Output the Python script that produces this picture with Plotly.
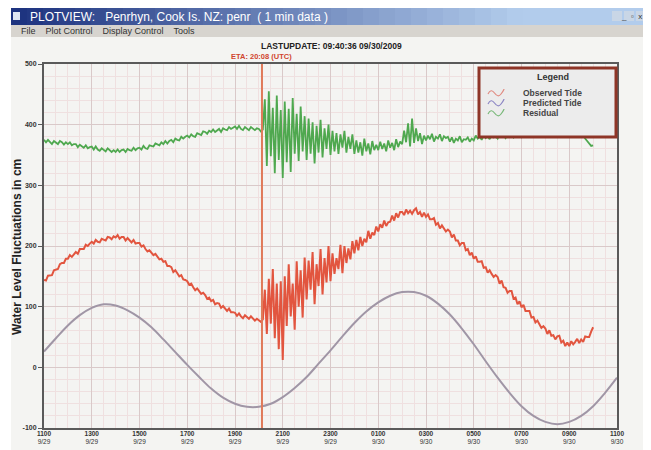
import plotly.graph_objects as go

# ---------------- data ----------------
step_min = 5  # sampling step of the transcribed series (minutes from 11:00)

observed = [
    144,143,151,151,152,160,161,162,170,172,172,179,
    179,185,182,187,190,187,195,195,195,202,200,204,
    207,204,210,207,206,212,210,209,215,214,211,216,
    214,218,212,215,215,209,213,210,206,210,204,205,
    205,199,201,195,191,193,189,185,187,183,178,179,
    174,175,167,167,165,157,160,155,150,152,145,144,
    142,136,138,132,127,130,125,121,123,119,113,115,
    109,111,104,106,105,98,101,97,93,97,91,91,
    90,85,89,84,81,86,83,80,84,81,77,80,
    78,75,79,128,55,146,72,162,48,138,30,142,
    12,150,68,170,84,138,62,175,100,160,82,181,
    112,176,128,190,104,170,134,195,120,180,140,200,
    142,188,154,180,162,202,155,200,172,196,178,208,
    188,210,193,215,200,212,206,225,212,222,218,232,
    224,236,230,242,233,239,240,250,242,254,247,256,
    256,251,260,254,258,253,259,262,252,256,248,255,
    248,252,244,244,246,235,238,229,234,228,224,227,
    224,214,219,209,209,201,205,205,193,195,185,189,
    179,183,174,174,175,164,165,156,160,154,149,152,
    149,138,143,132,131,123,126,126,113,115,104,109,
    99,103,93,93,93,82,83,74,77,71,65,68,
    64,55,61,52,53,46,51,52,41,44,35,41,
    35,43,38,42,47,40,46,42,51,50,50,59,
    66,
]

residual = [
    375,371,375,371,368,373,371,368,373,371,367,371,
    368,371,366,368,368,363,367,364,362,366,361,363,
    364,359,364,359,357,361,359,356,361,358,355,358,
    355,359,355,358,359,355,360,358,357,362,358,361,
    362,359,365,361,360,366,365,364,369,368,366,371,
    368,373,369,373,375,371,377,375,374,380,377,380,
    382,379,384,381,380,386,384,383,389,388,385,390,
    388,392,388,391,393,388,394,392,391,396,393,395,
    397,393,398,393,391,396,394,391,396,394,391,394,
    393,389,392,442,332,455,348,428,320,448,342,424,
    312,438,338,426,322,444,352,418,340,430,356,414,
    342,410,352,404,336,398,354,408,346,394,360,400,
    350,390,356,386,352,384,362,390,354,380,360,384,
    352,374,354,371,349,377,356,369,351,373,358,367,
    358,372,360,369,356,374,362,370,358,376,363,372,
    368,390,371,402,364,410,370,394,373,386,368,382,
    374,382,376,385,372,380,377,384,373,381,378,380,
    372,379,370,377,374,381,371,376,375,379,372,377,
    374,382,377,380,375,384,378,381,376,383,379,381,
    377,384,380,382,378,386,381,383,379,385,382,384,
    380,387,383,385,381,388,384,386,382,389,386,387,
    382,389,385,387,383,390,386,388,384,391,388,389,
    388,392,387,391,385,388,381,384,377,373,369,365,
    366,
]

pred_step_min = 30
predicted = [
    26, 48, 69, 86, 98, 104,
    102, 94, 82, 66, 46, 25, 4, -16, -35, -50, -60, -65,
    -65, -60, -49, -34, -16, 6, 28, 51, 73, 92, 107, 118, 124,
    124, 118, 105, 87, 64, 38, 10, -17, -42, -64, -80, -90,
    -94, -90, -80, -64, -42, -17,
]

series_names = ["Observed Tide", "Predicted Tide", "Residual"]

x_tickvals = [0, 2, 4, 6, 8, 10, 12, 14, 16, 18, 20, 22, 24]
x_ticktext = ["<b>1100</b><br>9/29", "<b>1300</b><br>9/29", "<b>1500</b><br>9/29",
              "<b>1700</b><br>9/29", "<b>1900</b><br>9/29", "<b>2100</b><br>9/29",
              "<b>2300</b><br>9/29", "<b>0100</b><br>9/30", "<b>0300</b><br>9/30",
              "<b>0500</b><br>9/30", "<b>0700</b><br>9/30", "<b>0900</b><br>9/30",
              "<b>1100</b><br>9/30"]
y_tickvals = [-100, 0, 100, 200, 300, 400, 500]
y_ticktext = ["<b>-100</b>", "<b>0</b>", "<b>100</b>", "<b>200</b>", "<b>300</b>",
              "<b>400</b>", "<b>500</b>"]

eta_hour = 9.13
eta_label = "ETA: 20:08 (UTC)"
title_text = "LASTUPDATE: 09:40:36 09/30/2009"
window_title = "PLOTVIEW:   Penrhyn, Cook Is. NZ: penr  ( 1 min data )"
menu_text = "File    Plot Control    Display Control    Tools"
y_title = "Water Level Fluctuations in cm"

# ---------------- figure ----------------
# the page body adds an 8px offset; the figure is sized so that it ends at 651x450 on screen
OFF = 8
W, H = 651 - OFF, 450 - OFF
# plot frame in screen pixels
L, R, T, B = 44, 617, 64, 428


def px(xp):
    return (xp - L) / (R - L)


def py(yp):
    return (B - yp) / (B - T)


obs_x = [i * step_min / 60 for i in range(len(observed))]
res_x = [i * step_min / 60 for i in range(len(residual))]
pred_x = [i * pred_step_min / 60 for i in range(len(predicted))]

line_colors = ["#e2553f", "#a096a6", "#4fa84f"]
icon_colors = ["#e08a80", "#8c86c4", "#78b878"]

fig = go.Figure()
fig.add_trace(go.Scatter(x=obs_x, y=observed, mode="lines", name=series_names[0],
                         line=dict(color=line_colors[0], width=2)))
fig.add_trace(go.Scatter(x=pred_x, y=predicted, mode="lines", name=series_names[1],
                         line=dict(color=line_colors[1], width=2, shape="spline")))
fig.add_trace(go.Scatter(x=res_x, y=residual, mode="lines", name=series_names[2],
                         line=dict(color=line_colors[2], width=1.8)))

shapes = []
# window background
shapes.append(dict(type="rect", xref="paper", yref="paper", layer="below",
                   x0=px(11), x1=px(651), y0=py(450), y1=py(8),
                   fillcolor="#f4f4f2", line=dict(width=0)))
# title bar gradient
N = 40
c1 = (30, 52, 128)
c2 = (178, 204, 236)
for k in range(N):
    t = k / (N - 1)
    t2 = min(1.0, t * 1.25)
    col = tuple(int(c1[j] + (c2[j] - c1[j]) * t2) for j in range(3))
    x0 = 11 + (651 - 11) * k / N
    x1 = 11 + (651 - 11) * (k + 1) / N + 1
    shapes.append(dict(type="rect", xref="paper", yref="paper", layer="below",
                       x0=px(x0), x1=px(x1), y0=py(25), y1=py(8),
                       fillcolor="rgb(%d,%d,%d)" % col, line=dict(width=0)))
# icon
shapes.append(dict(type="rect", xref="paper", yref="paper", layer="below",
                   x0=px(13), x1=px(20), y0=py(20), y1=py(12),
                   fillcolor="#dfe6f2", line=dict(width=0)))
# window buttons
for bx in (612, 624, 636):
    shapes.append(dict(type="rect", xref="paper", yref="paper", layer="below",
                       x0=px(bx), x1=px(bx + 10), y0=py(21), y1=py(11),
                       fillcolor="#c9d6e6", line=dict(width=0)))
# menu bar
shapes.append(dict(type="rect", xref="paper", yref="paper", layer="below",
                   x0=px(11), x1=px(651), y0=py(37), y1=py(25),
                   fillcolor="#d7d4cf", line=dict(width=0)))
# ETA line
shapes.append(dict(type="line", xref="x", yref="y", x0=eta_hour, x1=eta_hour,
                   y0=-100, y1=500, line=dict(color="#e07a5a", width=2)))

# legend box (drawn)
LX0, LX1, LY0, LY1 = 479, 616, 68, 137
shapes.append(dict(type="rect", xref="paper", yref="paper", layer="above",
                   x0=px(LX0), x1=px(LX1), y0=py(LY1), y1=py(LY0),
                   fillcolor="#ececec", line=dict(color="#8e3527", width=3)))
item_y = [93, 103, 113]
for yy, c in zip(item_y, icon_colors):
    path = "M %f %f Q %f %f %f %f T %f %f T %f %f" % (
        px(488), py(yy + 1), px(491), py(yy - 5), px(494.5), py(yy),
        px(501), py(yy + 1), px(504), py(yy - 4))
    shapes.append(dict(type="path", xref="paper", yref="paper", layer="above",
                       path=path, line=dict(color=c, width=1.2)))

annotations = [
    dict(text=window_title, xref="paper", yref="paper", x=px(28), y=py(16.5),
         xanchor="left", yanchor="middle", showarrow=False,
         font=dict(family="Liberation Sans", size=12, color="white")),
    dict(text="_  ▫  x", xref="paper", yref="paper", x=px(631), y=py(16),
         xanchor="center", yanchor="middle", showarrow=False,
         font=dict(family="Liberation Sans", size=8, color="#333")),
    dict(text=menu_text, xref="paper", yref="paper", x=px(19), y=py(31),
         xanchor="left", yanchor="middle", showarrow=False,
         font=dict(family="Liberation Sans", size=9, color="#333")),
    dict(text="<b>" + title_text + "</b>", xref="paper", yref="paper", x=px(331), y=py(46),
         xanchor="center", yanchor="middle", showarrow=False,
         font=dict(family="Liberation Sans", size=8.5, color="#222")),
    dict(text="<b>" + eta_label + "</b>", xref="x", yref="paper", x=eta_hour, y=py(56),
         xanchor="center", yanchor="middle", showarrow=False,
         font=dict(family="Liberation Sans", size=7.5, color="#d0452e")),
    dict(text="<b>" + y_title + "</b>", xref="paper", yref="paper", x=px(17), y=py(247),
         xanchor="center", yanchor="middle", showarrow=False, textangle=-90,
         font=dict(family="Liberation Sans", size=12, color="#222")),
    dict(text="<b>Legend</b>", xref="paper", yref="paper", x=px(553), y=py(77),
         xanchor="center", yanchor="middle", showarrow=False,
         font=dict(family="Liberation Sans", size=9, color="#333")),
]
for yy, name in zip(item_y, series_names):
    annotations.append(dict(text="<b>" + name + "</b>", xref="paper", yref="paper",
                            x=px(521), y=py(yy), xanchor="left", yanchor="middle",
                            showarrow=False,
                            font=dict(family="Liberation Sans", size=8.5, color="#444")))

fig.update_layout(
    width=W, height=H,
    margin=dict(l=L - OFF, r=651 - R, t=T - OFF, b=450 - B),
    paper_bgcolor="white",
    plot_bgcolor="white",
    shapes=shapes,
    annotations=annotations,
    showlegend=False,
    xaxis=dict(
        range=[0, 24], tickmode="array", tickvals=x_tickvals, ticktext=x_ticktext,
        tickfont=dict(family="Liberation Sans", size=6.5, color="#333"),
        ticklabelstandoff=-2,
        showgrid=True, gridcolor="#d9c9c9", gridwidth=1,
        minor=dict(dtick=0.5, showgrid=True, gridcolor="#efe0e0", gridwidth=1),
        showline=True, linecolor="#5a5a5a", linewidth=2, mirror=True,
        ticks="", zeroline=False, automargin=False,
    ),
    yaxis=dict(
        range=[-100, 500], tickmode="array", tickvals=y_tickvals, ticktext=y_ticktext,
        tickfont=dict(family="Liberation Sans", size=7, color="#333"),
        showgrid=True, gridcolor="#d9c9c9", gridwidth=1,
        minor=dict(dtick=20, showgrid=True, gridcolor="#efe0e0", gridwidth=1),
        showline=True, linecolor="#5a5a5a", linewidth=2, mirror=True,
        ticks="outside", ticklen=4, tickcolor="#5a5a5a", zeroline=False,
        automargin=False,
    ),
)

fig.write_html("out.html")
